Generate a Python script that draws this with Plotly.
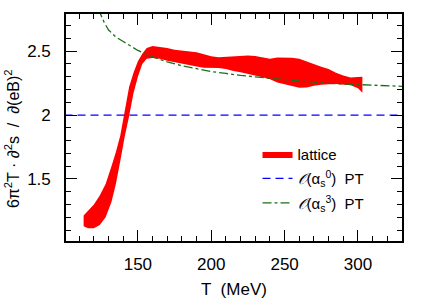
import plotly.graph_objects as go

# Lattice band: temperature grid with upper / lower edges
T_lat = [113, 116, 120, 124, 128, 132, 135, 138, 141, 144, 147, 150, 153, 156, 160,
         165, 170, 175, 180, 185, 190, 195, 200, 205, 210, 215, 220, 225, 230, 235,
         240, 245, 250, 255, 260, 265, 270, 275, 280, 285, 290, 295, 300, 303]
lat_upper = [1.215, 1.25, 1.30, 1.37, 1.46, 1.60, 1.71, 1.84, 2.03, 2.22, 2.33, 2.42, 2.48, 2.525, 2.54,
             2.535, 2.525, 2.51, 2.505, 2.50, 2.49, 2.475, 2.46, 2.452, 2.455, 2.463, 2.465, 2.465, 2.462, 2.45,
             2.44, 2.45, 2.45, 2.448, 2.44, 2.418, 2.395, 2.377, 2.36, 2.33, 2.31, 2.293, 2.298, 2.30]
lat_lower = [1.13, 1.115, 1.115, 1.14, 1.20, 1.32, 1.46, 1.64, 1.83, 1.99, 2.17, 2.30, 2.40, 2.44, 2.445,
             2.44, 2.425, 2.415, 2.40, 2.39, 2.38, 2.37, 2.37, 2.368, 2.36, 2.345, 2.335, 2.32, 2.31, 2.295,
             2.28, 2.255, 2.24, 2.225, 2.213, 2.215, 2.228, 2.237, 2.24, 2.242, 2.238, 2.232, 2.21, 2.175]

# Leading-order PT (constant)
T_pt0 = [100, 335]
pt0 = [2.0, 2.0]

# O(alpha_s^3) PT curve
T_pt3 = [123, 125, 127, 130, 135, 140, 145, 150, 160, 170, 180, 190, 200, 210, 220,
         240, 260, 280, 300, 320, 335]
pt3 = [2.83, 2.78, 2.725, 2.665, 2.61, 2.575, 2.54, 2.505, 2.455, 2.415, 2.385, 2.36, 2.34, 2.325, 2.31,
       2.287, 2.265, 2.248, 2.238, 2.23, 2.222]

x_ticks = [150, 200, 250, 300]
x_ticktext = ["150", "200", "250", "300"]
y_ticks = [1.5, 2.0, 2.5]
y_ticktext = ["1.5", "2", "2.5"]

FONT = "Liberation Sans, Arial, Helvetica, sans-serif"

fig = go.Figure()
fig.add_trace(go.Scatter(
    x=T_lat + T_lat[::-1], y=lat_upper + lat_lower[::-1],
    fill="toself", fillcolor="#ff0000", mode="lines", line=dict(width=0, color="#ff0000"),
    name="lattice", legendgroup="a"))
fig.add_trace(go.Scatter(
    x=T_pt0, y=pt0, mode="lines", line=dict(color="#0000ff", width=1.3, dash="8px,5px"),
    name="<i>𝒪</i>(α<sub>s</sub><sup>0</sup>)  PT", legendgroup="b"))
fig.add_trace(go.Scatter(
    x=T_pt3, y=pt3, mode="lines", line=dict(color="#1a6e1a", width=1.3, dash="dashdot"),
    name="<i>𝒪</i>(α<sub>s</sub><sup>3</sup>)  PT", legendgroup="c"))

axis_common = dict(
    showline=True, linecolor="black", linewidth=1.6, mirror="allticks",
    ticks="inside", ticklen=11, tickwidth=1.3, tickcolor="black",
    showgrid=False, zeroline=False, layer="above traces",
    tickfont=dict(family=FONT, size=17, color="black"),
)

fig.update_xaxes(range=[101, 330], tickmode="array", tickvals=x_ticks, ticktext=x_ticktext, ticklabelstandoff=7,
                 minor=dict(ticks="inside", ticklen=5.5, tickmode="linear", tick0=0, dtick=10,
                            tickcolor="black", tickwidth=1.3),
                 title=dict(text="T  (MeV)", font=dict(family=FONT, size=17, color="black"), standoff=10),
                 **axis_common)
fig.update_yaxes(range=[1.015, 2.79], tickmode="array", tickvals=y_ticks, ticktext=y_ticktext, ticklabelstandoff=10,
                 minor=dict(ticks="inside", ticklen=5.5, tickmode="linear", tick0=0, dtick=0.1,
                            tickcolor="black", tickwidth=1.3),
                 **axis_common)

fig.add_annotation(
    text="6π<sup>2</sup>T · ∂<sup>2</sup>s  /  ∂(eB)<sup>2</sup>",
    xref="paper", yref="paper", x=-0.16, y=0.45, xanchor="center", yanchor="middle",
    textangle=-90, showarrow=False, font=dict(family=FONT, size=16, color="black"))

fig.update_layout(
    width=425, height=308,
    margin=dict(l=66, r=23, t=14, b=61),
    paper_bgcolor="white", plot_bgcolor="white",
    showlegend=True,
    legend=dict(x=0.57, y=0.455, xanchor="left", yanchor="top", bgcolor="rgba(0,0,0,0)",
                traceorder="grouped", tracegroupgap=2,
                font=dict(family=FONT, size=15, color="black")),
)

fig.write_html("out.html", config={"displayModeBar": False},
               post_script="document.body.style.margin='0';document.body.style.padding='0';")
